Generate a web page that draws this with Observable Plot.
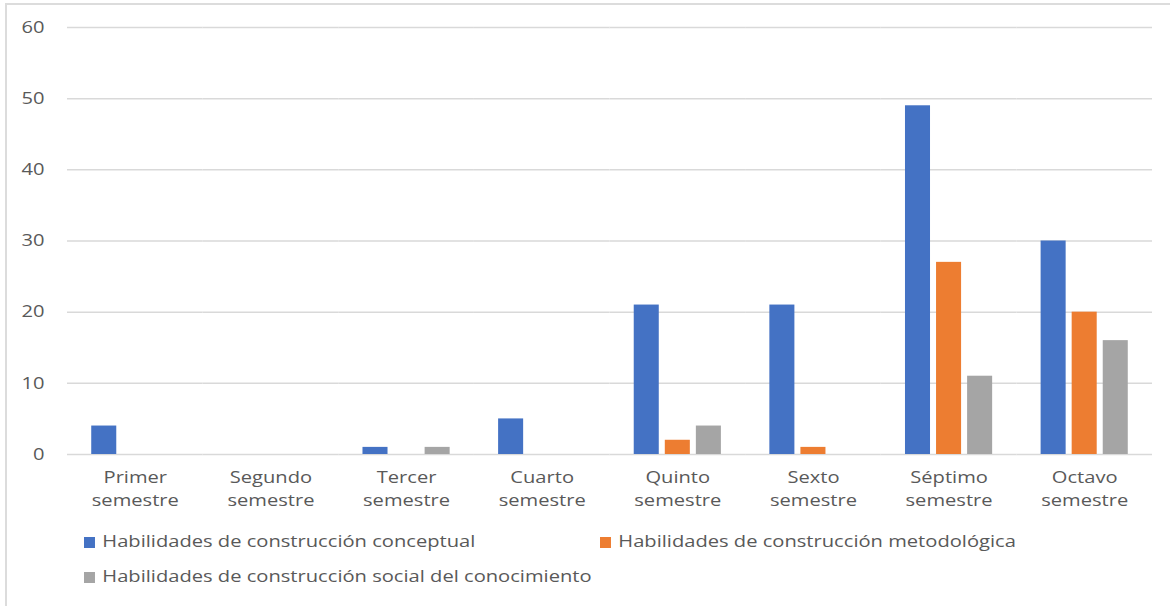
<!DOCTYPE html>
<html>
<head>
<meta charset="utf-8">
<script src="https://cdn.jsdelivr.net/npm/d3@7"></script>
<script src="https://cdn.jsdelivr.net/npm/@observablehq/plot@0.6"></script>
<style>
  html, body { margin: 0; padding: 0; background: #fff; }
  body { width: 1170px; height: 606px; position: relative; overflow: hidden; font-family: "Open Sans", sans-serif; color: #595959; }
  #frame { position: absolute; left: 5px; top: 3px; width: 1170px; height: 610px; border-left: 2px solid #dcdcdc; border-top: 2px solid #dcdcdc; }
  #chart { position: absolute; left: 0; top: 0; }
  .legend { position: absolute; font-size: 16.5px; color: #595959; white-space: nowrap; transform: scaleX(1.22); transform-origin: 0 50%; }
  .legend .sw { display: inline-block; width: 9px; height: 11px; margin-right: 6px; vertical-align: -1px; }
</style>
</head>
<body>
<div id="frame"></div>
<div id="chart"></div>
<div class="legend" id="lg0" style="left:84px; top:529px;"></div>
<div class="legend" id="lg1" style="left:600px; top:529px;"></div>
<div class="legend" id="lg2" style="left:84px; top:564px;"></div>
<script>
const semestres = ["Primer semestre", "Segundo semestre", "Tercer semestre", "Cuarto semestre", "Quinto semestre", "Sexto semestre", "Séptimo semestre", "Octavo semestre"];
const series = ["Habilidades de construcción conceptual", "Habilidades de construcción metodológica", "Habilidades de construcción social del conocimiento"];
const conceptual = [4, 0, 1, 5, 21, 21, 49, 30];
const metodologica = [0, 0, 0, 0, 2, 1, 27, 20];
const social = [0, 0, 1, 0, 4, 0, 11, 16];
const colors = ["#4472C4", "#ED7D31", "#A5A5A5"];
const yTicks = [0, 10, 20, 30, 40, 50, 60];

const valuesBySeries = [conceptual, metodologica, social];
const data = [];
semestres.forEach((s, i) => {
  series.forEach((k, j) => {
    data.push({semestre: s, serie: k, valor: valuesBySeries[j][i]});
  });
});

const plot = Plot.plot({
  width: 1170,
  height: 520,
  marginTop: 27,
  marginBottom: 66,
  marginLeft: 67,
  marginRight: 18,
  style: {fontFamily: "'Open Sans', sans-serif", fontSize: "16.5px", color: "#595959", background: "transparent"},
  fx: {domain: semestres, padding: 0, round: false, label: null},
  x: {domain: series, paddingInner: 0.194, paddingOuter: 0.78, round: false, axis: null},
  y: {domain: [0, 60], label: null},
  color: {domain: series, range: colors},
  marks: [
    Plot.gridY(yTicks, {stroke: "#d9d9d9", strokeOpacity: 1, strokeWidth: 1.5}),
    Plot.barY(data, {fx: "semestre", x: "serie", y: "valor", fill: "serie"}),
    Plot.axisY(yTicks, {tickSize: 0, tickPadding: 23, fontSize: 16.5, fill: "#595959"}),
    Plot.axisFx({anchor: "bottom", tickSize: 0, tickPadding: 12, fontSize: 16.5, fill: "#595959", lineHeight: 1.4, tickFormat: d => d.replace(" ", "\n")})
  ]
});
// widen the glyphs like the reference's stretched typeface
plot.querySelectorAll("text").forEach(t => {
  const tr = t.getAttribute("transform") || "";
  t.setAttribute("transform", tr + " scale(1.22,1)");
});
document.getElementById("chart").appendChild(plot);

series.forEach((k, j) => {
  const el = document.getElementById("lg" + j);
  const sw = document.createElement("span");
  sw.className = "sw";
  sw.style.background = colors[j];
  el.appendChild(sw);
  el.appendChild(document.createTextNode(k));
});
</script>
</body>
</html>
